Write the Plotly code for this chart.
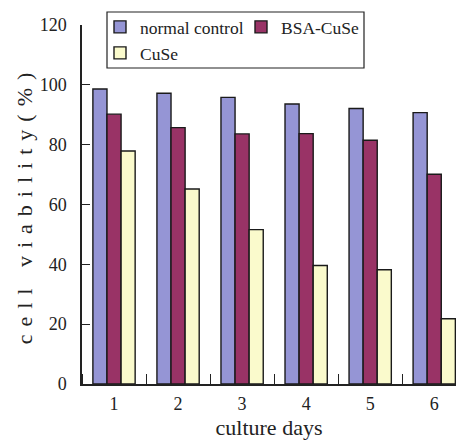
import plotly.graph_objects as go

days = [1, 2, 3, 4, 5, 6]
day_labels = ["1", "2", "3", "4", "5", "6"]
normal_control = [98.6, 97.2, 95.8, 93.6, 92.1, 90.7]
bsa_cuse = [90.2, 85.7, 83.6, 83.7, 81.5, 70.1]
cuse = [77.9, 65.2, 51.6, 39.6, 38.2, 21.8]
y_ticks = [0, 20, 40, 60, 80, 100, 120]

FONT = "Liberation Serif"
series = [
    ("normal control", normal_control, "#9595D5", "legend"),
    ("BSA-CuSe", bsa_cuse, "#993366", "legend"),
    ("CuSe", cuse, "#FAFACC", "legend2"),
]

fig = go.Figure()
for name, vals, color, lg in series:
    fig.add_trace(go.Bar(
        x=days, y=vals, name=name, legend=lg,
        marker=dict(color=color, line=dict(color="#1a1a1a", width=1.4)),
    ))

legend_common = dict(
    orientation="h", xref="container", yref="container",
    xanchor="left", yanchor="middle",
    bgcolor="rgba(0,0,0,0)", borderwidth=0,
    entrywidth=96, entrywidthmode="pixels",
    font=dict(family=FONT, size=17.5, color="#222"),
    itemwidth=30, tracegroupgap=0,
)

fig.update_layout(
    width=456, height=440,
    margin=dict(l=82, r=0, t=25, b=56, autoexpand=False),
    paper_bgcolor="white", plot_bgcolor="white",
    barmode="group", bargap=0.34, bargroupgap=0,
    font=dict(family=FONT, size=18, color="#222"),
    showlegend=True,
    legend=dict(legend_common, x=100 / 456, y=1 - 27 / 440),
    legend2=dict(legend_common, x=100 / 456, y=1 - 53 / 440),
    shapes=[dict(
        type="rect", xref="paper", yref="paper",
        x0=(107 - 82) / 374, x1=(364 - 82) / 374,
        y0=1 - 43 / 359, y1=1 + 13 / 359,
        line=dict(color="#222", width=1.2), fillcolor="rgba(0,0,0,0)",
        layer="above",
    )],
    xaxis=dict(
        range=[0.5, 6.34], tickvals=days, ticktext=day_labels,
        ticks="", showline=True, linecolor="#222", linewidth=1.5,
        showgrid=False, zeroline=False, ticklabelstandoff=3, automargin=False,
        minor=dict(tick0=0.5, dtick=1, ticks="inside", ticklen=10,
                   tickcolor="#222", tickwidth=1.2, showgrid=False),
        title=dict(text="culture days", font=dict(family=FONT, size=22), standoff=7),
    ),
    yaxis=dict(
        range=[0, 120], tickvals=y_ticks, ticks="inside", ticklen=8,
        tickcolor="#222", tickwidth=1.2, automargin=False,
        showline=True, linecolor="#222", linewidth=1.5,
        showgrid=False, zeroline=False, ticklabelstandoff=10,
        title=dict(text="cell viability(%)", font=dict(family=FONT, size=22), standoff=1),
    ),
)

fig.write_html(
    "out.html",
    config={"displayModeBar": False},
    post_script=(
        "document.body.style.margin='0';document.body.style.overflow='hidden';"
        "document.querySelectorAll('.ytitle').forEach(function(e){e.style.letterSpacing='8px';});"
    ),
)
